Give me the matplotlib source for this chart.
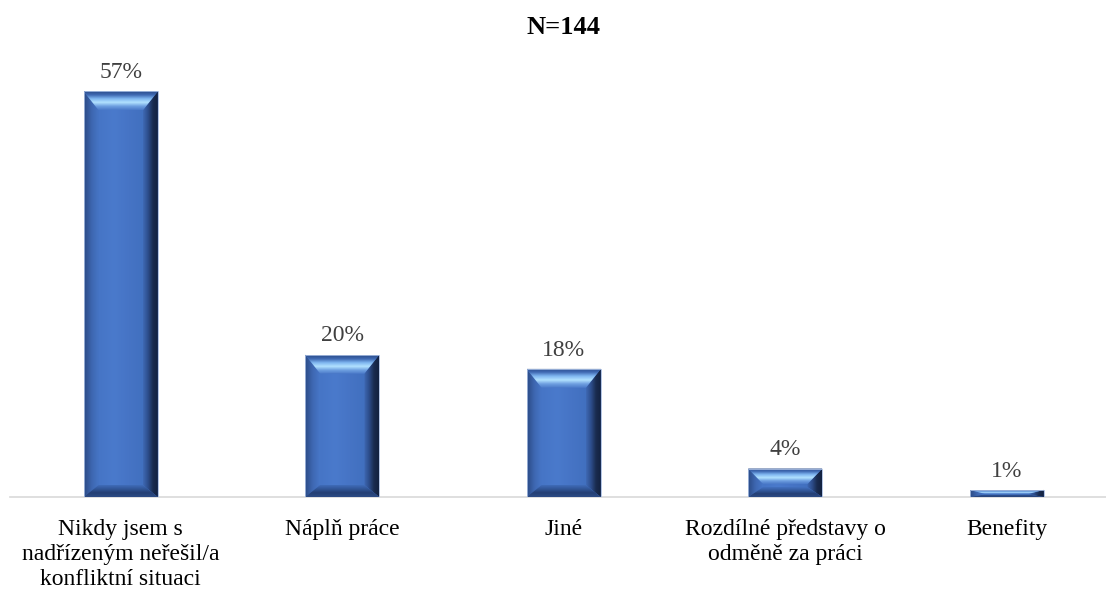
import numpy as np
import matplotlib
matplotlib.use("Agg")
import matplotlib.pyplot as plt
from matplotlib.patches import Polygon
from matplotlib.colors import LinearSegmentedColormap

categories = [
    "Nikdy jsem s\nnadřízeným neřešil/a\nkonfliktní situaci",
    "Náplň práce",
    "Jiné",
    "Rozdílné představy o\nodměně za práci",
    "Benefity",
]
values = [57, 20, 18, 4, 1]
value_labels = ["57%", "20%", "18%", "4%", "1%"]
title = "N=144"

plt.rcParams["font.family"] = ["Liberation Serif", "DejaVu Serif"]

W, H = 1106, 589
fig = plt.figure(figsize=(W / 100, H / 100), dpi=100)
ax_left = 10 / W
ax_bottom = (H - 497) / H
ax_h = 427 / H
ax = fig.add_axes([ax_left, ax_bottom, 1 - ax_left, ax_h])

x = np.arange(len(categories))
bar_w = 0.335
span = 5 * (W - 10) / 1107.5
ax.set_xlim(-0.5, -0.5 + span)
ax.set_ylim(0, 60)

bars = ax.bar(x, values, width=bar_w, color="#4472C4", edgecolor="none",
              linewidth=0, zorder=2)

fig.canvas.draw()
p0 = ax.transData.transform((0, 0))
p1 = ax.transData.transform((1, 1))
sx, sy = p1[0] - p0[0], p1[1] - p0[1]


def grad_fill(poly, colors, direction, extent):
    cmap = LinearSegmentedColormap.from_list("g", colors)
    g = np.linspace(0, 1, 96)
    img = g.reshape(-1, 1) if direction == "v" else g.reshape(1, -1)
    im = ax.imshow(img, cmap=cmap, extent=extent, aspect="auto",
                   interpolation="bilinear", zorder=3, origin="upper")
    im.set_clip_path(poly)


def region(pts):
    p = Polygon(pts, closed=True, facecolor="none", edgecolor="none")
    ax.add_patch(p)
    return p


for rect in bars:
    x0 = rect.get_x()
    w = rect.get_width()
    x1 = x0 + w
    y0 = 0.0
    y1 = rect.get_height()
    h = y1 - y0
    dy_top = min(19 / sy, h * 0.55)
    dy_bot = min(12 / sy, h * 0.35)
    dx = min(15 / sx, w * 0.22)

    # front face
    face = region([(x0 + dx, y0 + dy_bot), (x1 - dx, y0 + dy_bot),
                   (x1 - dx, y1 - dy_top), (x0 + dx, y1 - dy_top)])
    grad_fill(face, ["#4675C6", "#4A7ACC", "#4674C5", "#4170BF"], "h",
              [x0 + dx, x1 - dx, y0, y1])

    # left bevel
    left = region([(x0, y0), (x0 + dx, y0 + dy_bot), (x0 + dx, y1 - dy_top),
                   (x0, y1)])
    grad_fill(left, ["#2B4B86", "#3E67B1", "#4777C8"], "h", [x0, x0 + dx, y0, y1])

    # right bevel
    right = region([(x1, y0), (x1 - dx, y0 + dy_bot), (x1 - dx, y1 - dy_top),
                    (x1, y1)])
    grad_fill(right, ["#3F69B4", "#2D4E8C", "#1A2C50", "#132240"], "h",
              [x1 - dx, x1, y0, y1])

    # top bevel with highlight band
    top = region([(x0, y1), (x1, y1), (x1 - dx, y1 - dy_top),
                  (x0 + dx, y1 - dy_top)])
    grad_fill(top, ["#2C4C8A", "#3F69B2", "#7FB6F0", "#B2E2FF", "#6E9FE0",
                    "#4A79C8"], "v", [x0, x1, y1 - dy_top, y1])

    # bottom bevel
    bot = region([(x0, y0), (x1, y0), (x1 - dx, y0 + dy_bot),
                  (x0 + dx, y0 + dy_bot)])
    grad_fill(bot, ["#4371C0", "#33599C", "#243F74", "#2C4B85"], "v",
              [x0, x1, y0, y0 + dy_bot])

    # thin outline
    ax.add_patch(Polygon([(x0, y0), (x1, y0), (x1, y1), (x0, y1)], closed=True,
                         facecolor="none", edgecolor="#A7BCE0", linewidth=0.6,
                         zorder=4))

for xi, v, lab in zip(x, values, value_labels):
    ax.annotate(lab, (xi, v), xytext=(0, 6), textcoords="offset points",
                ha="center", va="bottom", fontsize=17, color="#404040")

ax.set_xticks(x)
ax.set_xticklabels(categories, fontsize=17, color="#000000",
                   linespacing=1.24)
ax.tick_params(axis="x", length=0, pad=16)
ax.set_yticks([])
for s in ["top", "right", "left"]:
    ax.spines[s].set_visible(False)
ax.spines["bottom"].set_color("#D9D9D9")
ax.spines["bottom"].set_linewidth(1.2)
ax.spines["bottom"].set_zorder(1)

fig.text((10 + 1117) / 2 / W, 1 - 28 / H, title, ha="center", va="center",
         fontsize=19, fontweight="bold", color="#000000")

fig.savefig("out.png", dpi=100)
